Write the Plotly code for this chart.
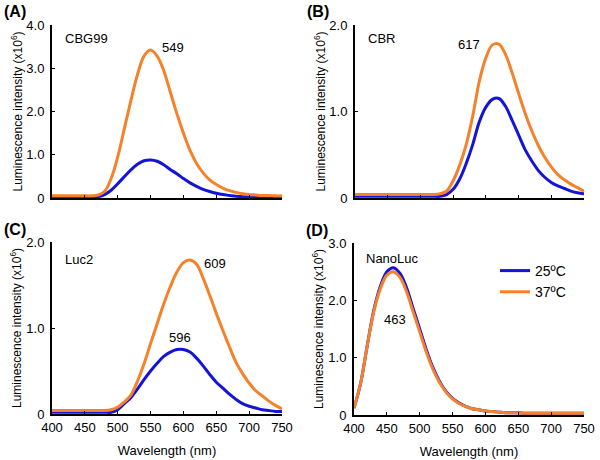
import plotly.graph_objects as go

# wavelength grid (nm)
wavelength = [400, 410, 420, 430, 440, 450, 460, 470, 480, 490, 500, 510,
              520, 530, 540, 550, 560, 570, 580, 590, 600, 610, 620, 630,
              640, 650, 660, 670, 680, 690, 700, 710, 720, 730, 740, 750]

# luminescence intensity (x10^6)
cbg99_25 = [0.02, 0.02, 0.02, 0.02, 0.02, 0.02, 0.02, 0.03, 0.08, 0.18, 0.33, 0.49,
            0.65, 0.78, 0.86, 0.88, 0.85, 0.77, 0.66, 0.56, 0.45, 0.35, 0.27, 0.20,
            0.15, 0.11, 0.08, 0.06, 0.04, 0.03, 0.02, 0.02, 0.02, 0.02, 0.02, 0.02]
cbg99_37 = [0.05, 0.05, 0.05, 0.05, 0.05, 0.05, 0.05, 0.07, 0.15, 0.45, 0.95, 1.60,
            2.25, 2.85, 3.28, 3.42, 3.28, 2.95, 2.45, 1.95, 1.50, 1.10, 0.80, 0.58,
            0.42, 0.31, 0.23, 0.17, 0.13, 0.10, 0.08, 0.07, 0.06, 0.06, 0.05, 0.05]
cbr_25 = [0.02, 0.02, 0.02, 0.02, 0.02, 0.02, 0.02, 0.02, 0.02, 0.02, 0.02, 0.02,
          0.02, 0.02, 0.04, 0.10, 0.22, 0.40, 0.62, 0.88, 1.05, 1.14, 1.15, 1.06,
          0.90, 0.73, 0.56, 0.43, 0.32, 0.24, 0.18, 0.14, 0.11, 0.08, 0.06, 0.05]
cbr_37 = [0.04, 0.04, 0.04, 0.04, 0.04, 0.04, 0.04, 0.04, 0.04, 0.04, 0.04, 0.04,
          0.04, 0.05, 0.08, 0.20, 0.38, 0.62, 0.95, 1.35, 1.62, 1.77, 1.78, 1.66,
          1.45, 1.21, 0.98, 0.78, 0.61, 0.47, 0.36, 0.27, 0.21, 0.16, 0.12, 0.08]
luc2_25 = [0.02, 0.02, 0.02, 0.02, 0.02, 0.02, 0.02, 0.02, 0.02, 0.02, 0.05, 0.12,
           0.19, 0.29, 0.40, 0.50, 0.59, 0.67, 0.72, 0.75, 0.75, 0.72, 0.65, 0.56,
           0.46, 0.37, 0.30, 0.23, 0.17, 0.12, 0.09, 0.07, 0.05, 0.04, 0.03, 0.03]
luc2_37 = [0.04, 0.04, 0.04, 0.04, 0.04, 0.04, 0.04, 0.04, 0.04, 0.05, 0.08, 0.14,
           0.22, 0.38, 0.58, 0.82, 1.05, 1.28, 1.48, 1.65, 1.76, 1.79, 1.74, 1.58,
           1.38, 1.17, 0.97, 0.78, 0.60, 0.47, 0.36, 0.27, 0.21, 0.15, 0.10, 0.06]
nano_25 = [0.12, 0.55, 1.20, 1.82, 2.24, 2.50, 2.57, 2.47, 2.22, 1.86, 1.50, 1.14,
           0.83, 0.59, 0.41, 0.29, 0.21, 0.15, 0.11, 0.09, 0.07, 0.06, 0.05, 0.04,
           0.04, 0.04, 0.03, 0.03, 0.03, 0.03, 0.03, 0.03, 0.03, 0.03, 0.03, 0.03]
nano_37 = [0.12, 0.55, 1.20, 1.80, 2.20, 2.44, 2.50, 2.40, 2.15, 1.80, 1.45, 1.10,
           0.80, 0.57, 0.40, 0.28, 0.20, 0.15, 0.11, 0.09, 0.07, 0.06, 0.05, 0.04,
           0.04, 0.04, 0.03, 0.03, 0.03, 0.03, 0.03, 0.03, 0.03, 0.03, 0.03, 0.03]

panels = [
    # letter, name, 25C, 37C, y max, peak labels
    ("(A)", "CBG99", cbg99_25, cbg99_37, 4.0, [("549", 173, 48)]),
    ("(B)", "CBR", cbr_25, cbr_37, 2.0, [("617", 469, 44)]),
    ("(C)", "Luc2", luc2_25, luc2_37, 2.0, [("609", 215, 263), ("596", 180, 337)]),
    ("(D)", "NanoLuc", nano_25, nano_37, 3.0, [("463", 395, 319)]),
]

W, H = 600, 460
BLUE = "#1414d8"
ORANGE = "#f5822a"
FONT = "Liberation Sans, Arial, sans-serif"

# plot area boxes in pixels: left, right, top, bottom
boxes = [(52, 282, 25, 198), (355, 584, 25, 198),
         (52, 282, 242, 414), (354, 584, 243, 415)]


def px(x, y):
    return x / W, 1 - y / H


fig = go.Figure()
annotations = []

for i, (letter, name, s25, s37, ymax, peaks) in enumerate(panels):
    n = "" if i == 0 else str(i + 1)
    left, right, top, bottom = boxes[i]
    show = i == 3
    fig.add_trace(go.Scatter(x=wavelength, y=s25, mode="lines", name="25ºC",
                             line=dict(color=BLUE, width=3, shape="spline"),
                             xaxis="x" + n, yaxis="y" + n, showlegend=show))
    fig.add_trace(go.Scatter(x=wavelength, y=s37, mode="lines", name="37ºC",
                             line=dict(color=ORANGE, width=3, shape="spline"),
                             xaxis="x" + n, yaxis="y" + n, showlegend=show))

    yticks = [k for k in range(int(ymax) + 1)]
    fig.update_layout({
        "xaxis" + n: dict(
            domain=[left / W, right / W], anchor="y" + n, range=[400, 750],
            tickvals=list(range(400, 751, 50)), showticklabels=i >= 2,
            ticks="inside", ticklen=3, tickcolor="black", showline=True,
            linecolor="black", linewidth=2, showgrid=False, zeroline=False,
            automargin=False, tickfont=dict(size=13),
            title=dict(text="Wavelength (nm)" if i >= 2 else "", standoff=12,
                       font=dict(size=13)),
        ),
        "yaxis" + n: dict(
            domain=[1 - bottom / H, 1 - top / H], anchor="x" + n, range=[0, ymax],
            tickvals=yticks, ticktext=["0"] + [f"{k:.1f}" for k in yticks[1:]],
            ticks="inside", ticklen=3, tickcolor="black", showline=True,
            linecolor="black", linewidth=2, showgrid=False, zeroline=False,
            automargin=False, tickfont=dict(size=13), ticklabelstandoff=3,
        ),
    })

    # y title
    x0, y0 = px(left - 36, (top + bottom) / 2)
    annotations.append(dict(x=x0, y=y0, text="Luminescence intensity (x10<sup>6</sup>)",
                            textangle=-90, font=dict(size=12)))
    # panel letter
    lx, ly = px(left - 50, top - 13)
    annotations.append(dict(x=lx, y=ly, text=f"<b>{letter}</b>", xanchor="left",
                            font=dict(size=16)))
    # protein name
    if i == 3:
        nx, ny = px(392, 258)
        annotations.append(dict(x=nx, y=ny, text=name, font=dict(size=13)))
    else:
        nx, ny = px(left + 11, top + 14 if i < 2 else top + 17)
        annotations.append(dict(x=nx, y=ny, text=name, xanchor="left", font=dict(size=13)))
    for label, ax, ay in peaks:
        x1, y1 = px(ax, ay)
        annotations.append(dict(x=x1, y=y1, text=label, font=dict(size=13)))

for a in annotations:
    a.setdefault("xanchor", "center")
    a.update(xref="paper", yref="paper", showarrow=False, yanchor="middle")

fig.update_layout(
    width=W, height=H, margin=dict(l=0, r=0, t=0, b=0),
    paper_bgcolor="white", plot_bgcolor="white",
    font=dict(family=FONT, size=13, color="black"),
    annotations=annotations,
    legend=dict(x=495 / W, y=1 - 255 / H, xanchor="left", yanchor="top",
                bgcolor="rgba(0,0,0,0)", font=dict(size=14), tracegroupgap=0),
)

# page has a default 8px body margin; drop it so the figure sits at the corner
fig.write_html("out.html", config={"displayModeBar": False},
               post_script="document.body.style.margin='0';")
